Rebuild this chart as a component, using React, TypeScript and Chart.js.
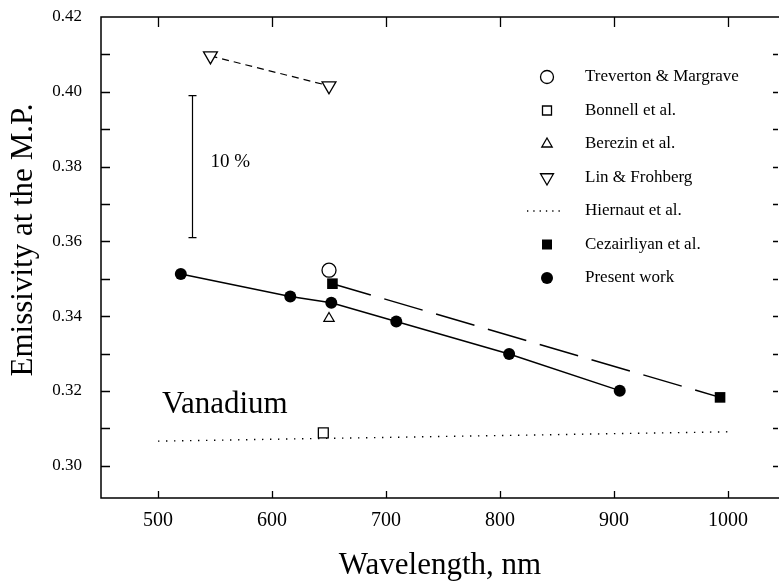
import React, { useEffect, useRef } from 'react';
import { Chart, registerables } from 'chart.js';

Chart.register(...registerables);

const FONT = '"Liberation Serif", "Times New Roman", serif';

// ---- data (wavelength in nm, emissivity at the melting point) ----
const presentWavelengths = [520, 616, 652, 709, 808, 905];
const presentEmissivity = [0.3513, 0.3453, 0.3436, 0.3386, 0.3299, 0.3201];

const cezairliyanWavelengths = [653, 993];
const cezairliyanEmissivity = [0.3487, 0.3183];

const linWavelengths = [546, 650];
const linEmissivity = [0.4096, 0.4016];

const trevertonWavelengths = [650];
const trevertonEmissivity = [0.3523];

const berezinWavelengths = [650];
const berezinEmissivity = [0.3394];

const bonnellWavelengths = [645];
const bonnellEmissivity = [0.3088];

const hiernautWavelengths = [500, 1000];
const hiernautEmissivity = [0.3066, 0.3091];

// ---- axes ----
const xTickValues = [500, 600, 700, 800, 900, 1000];
const yTickValues = [0.3, 0.32, 0.34, 0.36, 0.38, 0.4, 0.42];
const yMinorTickValues = [0.3, 0.31, 0.32, 0.33, 0.34, 0.35, 0.36, 0.37, 0.38, 0.39, 0.4, 0.41];
const xAxisTitle = 'Wavelength, nm';
const yAxisTitle = 'Emissivity at the M.P.';

// ---- annotations ----
const errorBarWavelength = 530;
const errorBarRange = [0.361, 0.399];
const errorBarLabel = '10 %';
const errorBarLabelAt = [546, 0.3812];
const materialLabel = 'Vanadium';
const materialLabelAt = [503.5, 0.3142];

const legendLabels = [
  'Treverton & Margrave',
  'Bonnell et al.',
  'Berezin et al.',
  'Lin & Frohberg',
  'Hiernaut et al.',
  'Cezairliyan et al.',
  'Present work',
];

const pts = (xs: number[], ys: number[]) => xs.map((x, i) => ({ x, y: ys[i] }));

function drawMarker(ctx: CanvasRenderingContext2D, kind: string, cx: number, cy: number) {
  ctx.save();
  ctx.strokeStyle = '#000';
  ctx.fillStyle = '#000';
  ctx.lineWidth = 1.3;
  ctx.setLineDash([]);
  ctx.beginPath();
  if (kind === 'openCircle') {
    ctx.arc(cx, cy, 6.5, 0, Math.PI * 2);
    ctx.stroke();
  } else if (kind === 'openSquare') {
    ctx.rect(cx - 4.5, cy - 4.5, 9, 9);
    ctx.stroke();
  } else if (kind === 'upTriangle') {
    const r = 6;
    ctx.moveTo(cx, cy - r);
    ctx.lineTo(cx + r * 0.866, cy + r * 0.5);
    ctx.lineTo(cx - r * 0.866, cy + r * 0.5);
    ctx.closePath();
    ctx.stroke();
  } else if (kind === 'downTriangle') {
    const r = 7.5;
    ctx.moveTo(cx, cy + r);
    ctx.lineTo(cx + r * 0.866, cy - r * 0.5);
    ctx.lineTo(cx - r * 0.866, cy - r * 0.5);
    ctx.closePath();
    ctx.stroke();
  } else if (kind === 'dotted') {
    ctx.lineWidth = 1.3;
    ctx.setLineDash([1.3, 5]);
    ctx.moveTo(cx - 20, cy);
    ctx.lineTo(cx + 16, cy);
    ctx.stroke();
  } else if (kind === 'filledSquare') {
    ctx.rect(cx - 5, cy - 5, 10, 10);
    ctx.fill();
  } else if (kind === 'filledCircle') {
    ctx.arc(cx, cy, 6, 0, Math.PI * 2);
    ctx.fill();
  }
  ctx.restore();
}

const legendMarkers = ['openCircle', 'openSquare', 'upTriangle', 'downTriangle', 'dotted', 'filledSquare', 'filledCircle'];

const framePlugin = {
  id: 'frameAndAnnotations',
  afterDraw(chart: any) {
    const { ctx, chartArea, scales } = chart;
    const { left, right, top, bottom } = chartArea;
    const x = scales.x;
    const y = scales.y;
    ctx.save();
    ctx.strokeStyle = '#000';
    ctx.fillStyle = '#000';
    ctx.lineWidth = 1.5;
    ctx.setLineDash([]);

    // frame
    ctx.beginPath();
    ctx.moveTo(right + 1, top);
    ctx.lineTo(left, top);
    ctx.lineTo(left, bottom);
    ctx.lineTo(right + 1, bottom);
    ctx.stroke();

    // ticks
    ctx.lineWidth = 1.3;
    ctx.beginPath();
    xTickValues.forEach((v) => {
      const px = Math.round(x.getPixelForValue(v)) + 0.5;
      ctx.moveTo(px, bottom);
      ctx.lineTo(px, bottom - 7);
      ctx.moveTo(px, top);
      ctx.lineTo(px, top + 10);
    });
    yMinorTickValues.forEach((v) => {
      const py = Math.round(y.getPixelForValue(v)) + 0.5;
      ctx.moveTo(left, py);
      ctx.lineTo(left + 9, py);
      ctx.moveTo(right - 1, py);
      ctx.lineTo(right - 6, py);
    });
    ctx.stroke();

    // error bar (10 %)
    const ex = Math.round(x.getPixelForValue(errorBarWavelength)) + 0.5;
    const ey1 = y.getPixelForValue(errorBarRange[0]);
    const ey2 = y.getPixelForValue(errorBarRange[1]);
    ctx.lineWidth = 1.2;
    ctx.beginPath();
    ctx.moveTo(ex, ey1);
    ctx.lineTo(ex, ey2);
    ctx.moveTo(ex - 4, ey1);
    ctx.lineTo(ex + 4, ey1);
    ctx.moveTo(ex - 4, ey2);
    ctx.lineTo(ex + 4, ey2);
    ctx.stroke();

    ctx.font = `19px ${FONT}`;
    ctx.textAlign = 'left';
    ctx.textBaseline = 'middle';
    ctx.fillText(errorBarLabel, x.getPixelForValue(errorBarLabelAt[0]), y.getPixelForValue(errorBarLabelAt[1]));

    ctx.font = `31px ${FONT}`;
    ctx.textBaseline = 'alphabetic';
    ctx.fillText(materialLabel, x.getPixelForValue(materialLabelAt[0]), y.getPixelForValue(materialLabelAt[1]));

    // legend
    ctx.font = `17px ${FONT}`;
    ctx.textBaseline = 'middle';
    legendLabels.forEach((label, i) => {
      const ly = 77 + i * 33.5;
      drawMarker(ctx, legendMarkers[i], 547, ly);
      ctx.fillStyle = '#000';
      ctx.fillText(label, 585, ly);
    });

    // axis titles
    ctx.font = `31px ${FONT}`;
    ctx.textAlign = 'center';
    ctx.textBaseline = 'middle';
    ctx.fillText(xAxisTitle, 440, 566);
    ctx.save();
    ctx.translate(24, 240);
    ctx.rotate(-Math.PI / 2);
    ctx.fillText(yAxisTitle, 0, 0);
    ctx.restore();

    ctx.restore();
  },
};

const zeroPad = (s: any) => {
  s.paddingTop = 0;
  s.paddingBottom = 0;
  s.paddingLeft = 0;
  s.paddingRight = 0;
};

export default function App() {
  const canvasRef = useRef<HTMLCanvasElement | null>(null);

  useEffect(() => {
    const canvas = canvasRef.current;
    if (!canvas) return;
    const chart = new Chart(canvas, {
      type: 'scatter',
      data: {
        datasets: [
          {
            label: legendLabels[0],
            data: pts(trevertonWavelengths, trevertonEmissivity),
            pointStyle: 'circle',
            pointRadius: 7,
            pointBorderWidth: 1.3,
            pointBackgroundColor: '#fff',
            pointBorderColor: '#000',
          },
          {
            label: legendLabels[1],
            data: pts(bonnellWavelengths, bonnellEmissivity),
            pointStyle: 'rect',
            pointRadius: 7,
            pointBorderWidth: 1.3,
            pointBackgroundColor: '#fff',
            pointBorderColor: '#000',
          },
          {
            label: legendLabels[2],
            data: pts(berezinWavelengths, berezinEmissivity),
            pointStyle: 'triangle',
            pointRadius: 6,
            pointBorderWidth: 1.2,
            pointBackgroundColor: '#fff',
            pointBorderColor: '#000',
          },
          {
            label: legendLabels[3],
            data: pts(linWavelengths, linEmissivity),
            showLine: true,
            borderColor: '#000',
            borderWidth: 1.2,
            borderDash: [7, 5],
            pointStyle: 'triangle',
            pointRotation: 180,
            pointRadius: 8,
            pointBorderWidth: 1.3,
            pointBackgroundColor: '#fff',
            pointBorderColor: '#000',
          },
          {
            label: legendLabels[5],
            data: pts(cezairliyanWavelengths, cezairliyanEmissivity),
            showLine: true,
            borderColor: '#000',
            borderWidth: 1.5,
            borderDash: [40, 14],
            pointStyle: 'rect',
            pointRadius: 7.5,
            pointBorderWidth: 0,
            pointBackgroundColor: '#000',
            pointBorderColor: '#000',
          },
          {
            label: legendLabels[6],
            data: pts(presentWavelengths, presentEmissivity),
            showLine: true,
            borderColor: '#000',
            borderWidth: 1.5,
            pointStyle: 'circle',
            pointRadius: 6,
            pointBorderWidth: 0,
            pointBackgroundColor: '#000',
            pointBorderColor: '#000',
          },
          {
            label: legendLabels[4],
            data: pts(hiernautWavelengths, hiernautEmissivity),
            showLine: true,
            borderColor: '#000',
            borderWidth: 1.4,
            borderDash: [1.4, 6.6],
            pointRadius: 0,
          },
        ],
      },
      options: {
        responsive: false,
        animation: false,
        events: [],
        layout: { autoPadding: false, padding: { top: 17, right: 0, left: 0, bottom: 0 } },
        plugins: {
          legend: { display: false },
          tooltip: { enabled: false },
          title: { display: false },
        },
        scales: {
          x: {
            type: 'linear',
            min: 450,
            max: 1044.7,
            grid: { display: false, drawTicks: false },
            border: { display: false },
            afterBuildTicks: (s: any) => {
              s.ticks = xTickValues.map((v) => ({ value: v }));
            },
            afterFit: (s: any) => {
              s.height = 88;
              zeroPad(s);
            },
            ticks: {
              color: '#000',
              padding: 11,
              maxRotation: 0,
              autoSkip: false,
              font: { family: FONT, size: 20 },
              callback: (v: any) => String(v),
            },
          },
          y: {
            type: 'linear',
            min: 0.2914,
            max: 0.42,
            grid: { display: false, drawTicks: false },
            border: { display: false },
            afterBuildTicks: (s: any) => {
              s.ticks = yTickValues.map((v) => ({ value: v }));
            },
            afterFit: (s: any) => {
              s.width = 101;
              zeroPad(s);
            },
            ticks: {
              color: '#000',
              padding: 19,
              autoSkip: false,
              font: { family: FONT, size: 17 },
              callback: (v: any) => Number(v).toFixed(2),
            },
          },
        },
      },
      plugins: [framePlugin],
    } as any);
    return () => chart.destroy();
  }, []);

  return (
    <div style={{ position: 'absolute', left: 0, top: 0, width: 779, height: 586, background: '#fff' }}>
      <canvas ref={canvasRef} width={779} height={586} style={{ display: 'block' }} />
    </div>
  );
}
